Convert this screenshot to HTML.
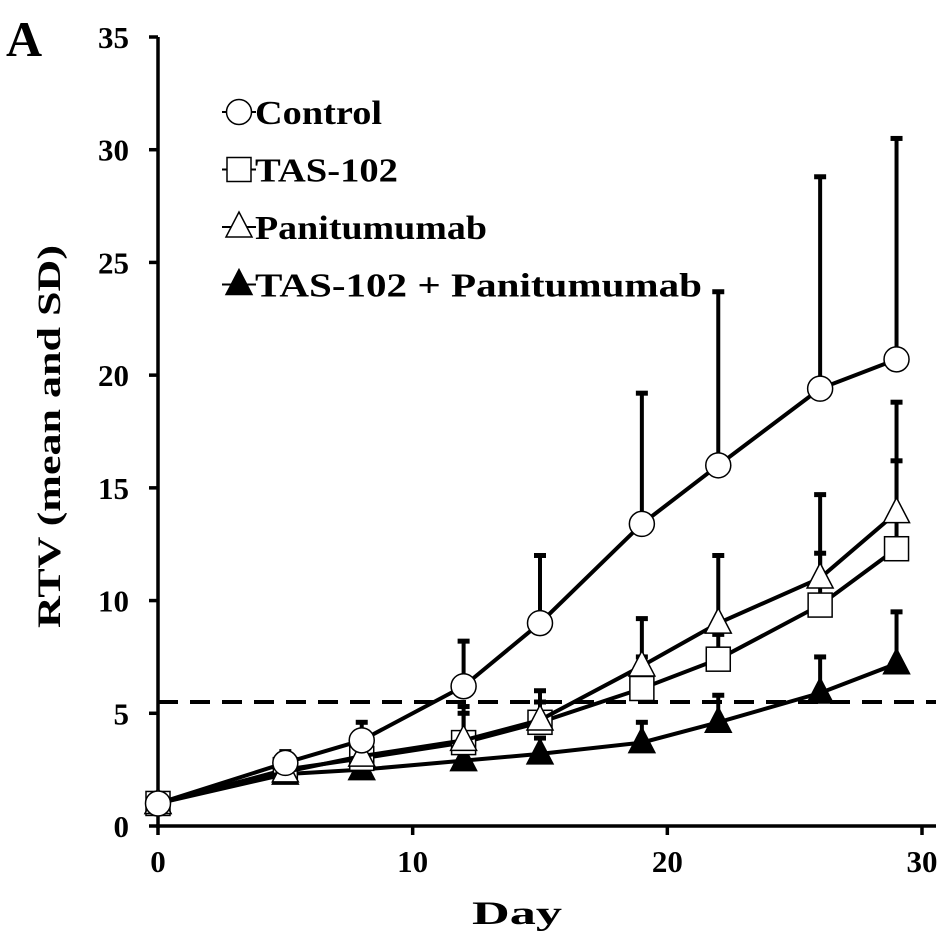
<!DOCTYPE html>
<html><head><meta charset="utf-8"><style>
html,body{margin:0;padding:0;background:#fff;}
svg{display:block;font-family:"Liberation Serif",serif;font-weight:bold;}
</style></head><body>
<svg id="chart" width="945" height="945" viewBox="0 0 945 945"></svg>
<script>
const days=[0,5,8,12,15,19,22,26,29];
const controlMean=[1,2.8,3.8,6.2,9.0,13.4,16.0,19.4,20.7];
const controlTop=[1,3.3,4.6,8.2,12.0,19.2,23.7,28.8,30.5];
const tasMean=[1,2.5,3.0,3.7,4.6,6.1,7.4,9.8,12.3];
const tasTop=[1,2.8,3.4,5.3,5.5,7.5,8.5,12.1,16.2];
const panMean=[1,2.4,3.1,3.8,4.7,7.1,9.0,11.0,13.9];
const panTop=[1,2.7,3.5,5.0,6.0,9.2,12.0,14.7,18.8];
const comboMean=[1,2.3,2.5,2.9,3.2,3.7,4.6,5.9,7.2];
const comboTop=[1,2.5,2.8,3.4,3.9,4.6,5.8,7.5,9.5];
const yTicks=[0,5,10,15,20,25,30,35];
const xTicks=[0,10,20,30];
const threshold=5.5;
const legendLabels=["Control","TAS-102","Panitumumab","TAS-102 + Panitumumab"];
const legendWidths=[127,143,232,447];

const NS="http://www.w3.org/2000/svg";
const svg=document.getElementById('chart');
const X=d=>158+d*(922-158)/30;
const Y=v=>826-v*(826-37)/35;
function el(t,a,p){const e=document.createElementNS(NS,t);for(const k in a)e.setAttribute(k,a[k]);(p||svg).appendChild(e);return e;}

let ax=el('line',{x1:158,y1:37,x2:158,y2:828,stroke:'#000','stroke-width':3.5});


ax=el('line',{x1:156,y1:826,x2:936,y2:826,stroke:'#000','stroke-width':3.5});


yTicks.forEach(v=>{
  el('line',{x1:149,y1:Y(v),x2:158,y2:Y(v),stroke:'#000','stroke-width':3.5});
  const t=el('text',{x:129,y:Y(v)+11,'text-anchor':'end','font-size':31});
  t.textContent=v;
  
  
});
xTicks.forEach(v=>{
  el('line',{x1:X(v),y1:826,x2:X(v),y2:835,stroke:'#000','stroke-width':3.5});
  const t=el('text',{x:X(v),y:872,'text-anchor':'middle','font-size':31});
  t.textContent=v;
  
  
});
let t=el('text',{x:472,y:924,'font-size':33,textLength:90,lengthAdjust:'spacingAndGlyphs'});
t.textContent='Day';


t=el('text',{x:0,y:0,'font-size':33,textLength:383,lengthAdjust:'spacingAndGlyphs',transform:'translate(60,628) rotate(-90)'});
t.textContent='RTV (mean and SD)';


t=el('text',{x:6,y:56,'font-size':50});
t.textContent='A';



const th=el('line',{x1:158,y1:Y(threshold),x2:936,y2:Y(threshold),stroke:'#000','stroke-width':4,'stroke-dasharray':'20,12'});



function marker(type,x,y,g){
  if(type==='circle')return el('circle',{cx:x,cy:y,r:12.5,fill:'#fff',stroke:'#000','stroke-width':1.5},g);
  if(type==='square')return el('rect',{x:x-12,y:y-12,width:24,height:24,fill:'#fff',stroke:'#000','stroke-width':1.5},g);
  const f=type==='tri'?'#fff':'#000';
  return el('polygon',{points:`${x},${y-15} ${x-13},${y+10} ${x+13},${y+10}`,fill:f,stroke:'#000','stroke-width':1.5},g);
}
const series=[
  {name:'combo',m:comboMean,top:comboTop,type:'trif'},
  {name:'tas-102',m:tasMean,top:tasTop,type:'square'},
  {name:'panitumumab',m:panMean,top:panTop,type:'tri'},
  {name:'control',m:controlMean,top:controlTop,type:'circle'}
];
series.forEach(s=>{
  const g=el('g',{});
  
  
  days.forEach((d,i)=>{
    if(s.top[i]>s.m[i]){
      const e=el('line',{x1:X(d),y1:Y(s.m[i]),x2:X(d),y2:Y(s.top[i]),stroke:'#000','stroke-width':4},g);
      
      
      el('line',{x1:X(d)-6,y1:Y(s.top[i]),x2:X(d)+6,y2:Y(s.top[i]),stroke:'#000','stroke-width':5},g);
    }
  });
  const pl=el('polyline',{points:days.map((d,i)=>X(d)+','+Y(s.m[i])).join(' '),fill:'none',stroke:'#000','stroke-width':4},g);
  
  
  days.forEach((d,i)=>{
    const m=marker(s.type,X(d),Y(s.m[i]),g);
    
    
  });
});

const lg=el('g',{});


const ltypes=['circle','square','tri','trif'];
legendLabels.forEach((lab,i)=>{
  const y=112+i*57.5;
  const g=el('g',{},lg);
  
  
  el('line',{x1:222,y1:y,x2:256,y2:y,stroke:'#000','stroke-width':2},g);
  marker(ltypes[i],239,y,g);
  const tx=el('text',{x:255,y:y+12,'font-size':34,textLength:legendWidths[i],lengthAdjust:'spacingAndGlyphs'},g);
  tx.textContent=lab;
});
</script>
</body></html>
